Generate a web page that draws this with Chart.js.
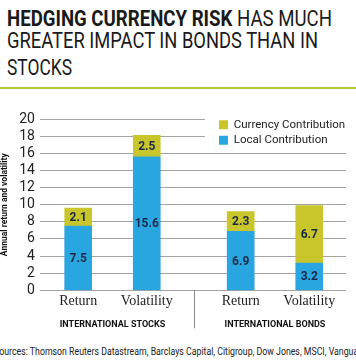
<!DOCTYPE html>
<html>
<head>
<meta charset="utf-8">
<script src="https://cdn.jsdelivr.net/npm/chart.js@4.4.1/dist/chart.umd.min.js"></script>
<style>
  html, body { margin: 0; padding: 0; background: #fff; width: 356px; height: 364px; overflow: hidden; position: relative; }
  .tl { position: absolute; left: 7px; font-family: Roboto, "Liberation Sans", sans-serif; font-size: 22px; line-height: 22px; color: #1a1a1a; white-space: nowrap; transform-origin: 0 0; }
  .tl b { font-weight: 700; }
  #rule { position: absolute; left: 0; top: 87px; width: 356px; height: 2px; background: #bcc537; }
  #wrap { position: absolute; left: 0; top: 90px; width: 356px; height: 246px; }
  #source { position: absolute; left: -6px; top: 346px; font-family: Roboto, "Liberation Sans", sans-serif; font-size: 10px; line-height: 12px; color: #222; white-space: nowrap; transform-origin: 0 0; }
</style>
</head>
<body>
<div class="tl" id="t1" data-w="325" style="top:8px"><b>HEDGING CURRENCY RISK</b> HAS MUCH</div>
<div class="tl" id="t2" data-w="311" style="top:30px">GREATER IMPACT IN BONDS THAN IN</div>
<div class="tl" id="t3" data-w="65" style="top:57px">STOCKS</div>
<div id="rule"></div>
<div id="wrap"><canvas id="c"></canvas></div>
<div id="source" data-w="372">Sources: Thomson Reuters Datastream, Barclays Capital, Citigroup, Dow Jones, MSCI, Vanguard</div>
<script>
// ---- data ----
const categories = ["Return", "Volatility", "Return", "Volatility"];
const groupLabels = ["INTERNATIONAL STOCKS", "INTERNATIONAL BONDS"];
const categoryGroup = [0, 0, 1, 1];
const localContribution = [7.5, 15.6, 6.9, 3.2];
const currencyContribution = [2.1, 2.5, 2.3, 6.7];
const seriesNames = ["Local Contribution", "Currency Contribution"];
const yAxisTitle = "Annual return and volatility";

// condense HTML text lines to the reference widths
document.querySelectorAll("[data-w]").forEach(el => {
  const w = el.getBoundingClientRect().width;
  el.style.transform = "scaleX(" + (parseFloat(el.dataset.w) / w) + ")";
});

// ---- layout (positions along linear x axis) ----
const GROUP_GAP = 0.37;
const xPos = categories.map((c, i) => i + categoryGroup[i] * GROUP_GAP);
const groupCenters = groupLabels.map((g, gi) => {
  const p = xPos.filter((v, i) => categoryGroup[i] === gi);
  return (p[0] + p[p.length - 1]) / 2;
});
const separatorPos = (xPos[1] + xPos[2]) / 2;
const X_MIN = -0.558, X_MAX = 3.906;

const BLUE = "#29a6df";
const YELLOW = "#c9c62b";
const SANS = 'Roboto, "Liberation Sans", sans-serif';

const labelPlugin = {
  id: "stackLabels",
  afterDatasetsDraw(chart) {
    const ctx = chart.ctx;
    ctx.save();
    ctx.font = "bold 12px " + SANS;
    ctx.fillStyle = "#1b2a48";
    ctx.textAlign = "center";
    ctx.textBaseline = "middle";
    chart.data.datasets.forEach((ds, di) => {
      const meta = chart.getDatasetMeta(di);
      meta.data.forEach((bar, j) => {
        const v = ds.data[j].y;
        ctx.fillText(v.toFixed(1), bar.x, (bar.y + bar.base) / 2 + 1);
      });
    });
    // white panel behind legend, then redraw legend on top
    const lg = chart.legend;
    ctx.fillStyle = "#fff";
    ctx.fillRect(lg.left - 10, chart.chartArea.top - 8, chart.width - lg.left + 10, 42);
    ctx.restore();
    lg.draw();
  },
  afterDraw(chart) {
    const ctx = chart.ctx;
    const x = Math.round(chart.scales.x.getPixelForValue(separatorPos)) + 0.5;
    ctx.save();
    ctx.strokeStyle = "#888";
    ctx.lineWidth = 1;
    ctx.beginPath();
    ctx.moveTo(x, chart.chartArea.bottom);
    ctx.lineTo(x, chart.chartArea.bottom + 38);
    ctx.stroke();
    ctx.restore();
  },
  afterLayout(chart) {
    const lg = chart.legend;
    const w = lg.width, h = lg.height;
    lg.left = chart.chartArea.right - 131;
    lg.right = lg.left + w;
    lg.top = chart.chartArea.top - 4;
    lg.bottom = lg.top + h;
  }
};

new Chart(document.getElementById("c"), {
  type: "bar",
  data: {
    datasets: [
      { label: seriesNames[0], data: localContribution.map((v, i) => ({ x: xPos[i], y: v })), backgroundColor: BLUE, barThickness: 27 },
      { label: seriesNames[1], data: currencyContribution.map((v, i) => ({ x: xPos[i], y: v })), backgroundColor: YELLOW, barThickness: 27 }
    ]
  },
  options: {
    responsive: true,
    maintainAspectRatio: false,
    animation: false,
    layout: { padding: { top: 29, right: 10, left: 0, bottom: 0 } },
    plugins: {
      legend: {
        position: "chartArea",
        align: "start",
        reverse: true,
        labels: { boxWidth: 9, boxHeight: 9, padding: 4, color: "#222", font: { family: SANS, size: 11.5 } }
      },
      tooltip: { enabled: false }
    },
    scales: {
      x: {
        type: "linear",
        position: "bottom",
        min: X_MIN, max: X_MAX,
        stacked: true,
        offset: false,
        grid: { display: false, drawTicks: false, offset: false },
        border: { display: false },
        afterBuildTicks: (s) => { s.ticks = xPos.map(v => ({ value: v })); },
        ticks: {
          autoSkip: false, maxRotation: 0, minRotation: 0, padding: 3,
          color: "#222",
          font: { family: '"Liberation Serif", "DejaVu Serif", serif', size: 14 },
          callback: (v, i) => categories[i]
        }
      },
      groups: {
        type: "linear",
        axis: "x",
        position: "bottom",
        min: X_MIN, max: X_MAX,
        offset: false,
        grid: { display: false, drawTicks: false, offset: false },
        border: { display: false },
        afterBuildTicks: (s) => { s.ticks = groupCenters.map(v => ({ value: v })); },
        ticks: {
          autoSkip: false, maxRotation: 0, minRotation: 0, padding: 6,
          color: "#111",
          font: { family: SANS, size: 9, weight: "bold" },
          callback: (v, i) => groupLabels[i]
        }
      },
      y: {
        stacked: true,
        min: 0, max: 20,
        grid: { color: "#a3a3a3", lineWidth: 1, drawTicks: false },
        border: { display: false },
        ticks: { stepSize: 2, autoSkip: false, padding: 5, color: "#222", font: { family: SANS, size: 14 } },
        title: { display: true, text: yAxisTitle, color: "#111", padding: { top: 0, bottom: 4 }, font: { family: SANS, size: 8.5, weight: "bold" } }
      }
    }
  },
  plugins: [labelPlugin]
});
</script>
</body>
</html>
